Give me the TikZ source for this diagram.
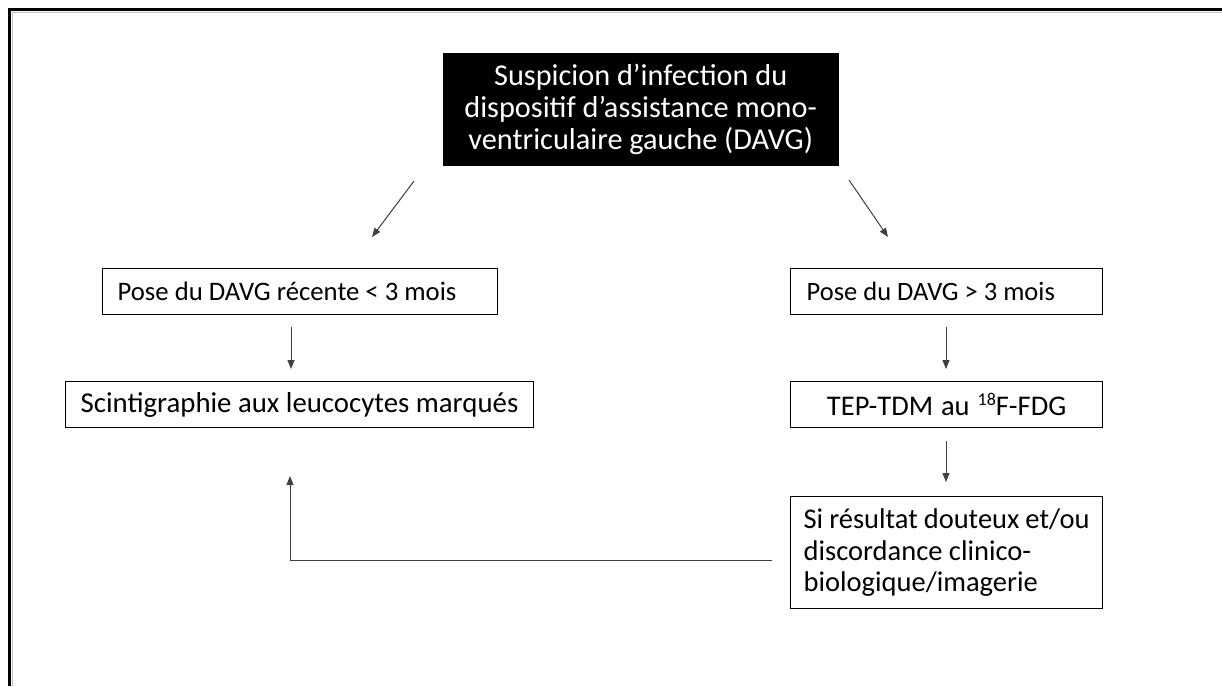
\documentclass[tikz,border=0pt]{standalone}
\usepackage{fontspec}
\setmainfont{Carlito}
\usetikzlibrary{arrows.meta}
\newcommand{\supnum}[1]{\raisebox{10pt}{\fontsize{18}{18}\selectfont #1}}
\begin{document}
\begin{tikzpicture}[x=1pt,y=-1pt,
  every node/.style={execute at begin node={\spaceskip=0pt\xspaceskip=0pt\relax}},
  box/.style={draw=black, line width=1.3pt, anchor=north west, inner ysep=0pt, minimum height=46pt},
  arr/.style={draw=black!75, line width=1pt, -{Triangle[length=9pt,width=7pt]}}
]
\useasboundingbox (0,0) rectangle (1222,686);
\fill[white] (0,0) rectangle (1222,686);
% outer frame (only top and left edges visible)
\draw[black!25, line width=1pt] (12,686) -- (12,12) -- (1222,12);
\draw[black, line width=3pt] (9.5,686) -- (9.5,9.5) -- (1222,9.5);
% nodes
\node[fill=black, text=white, draw=black, anchor=north west, minimum width=395pt, minimum height=112pt, align=center, inner sep=0pt, font=\fontsize{30.3}{32}\selectfont] (top) at (443,53)
  {Suspicion d’infection du\\dispositif d’assistance mono-\\ventriculaire gauche (DAVG)};
\node[box, inner xsep=15pt, text width=365pt, align=left, font=\fontsize{26.7}{30}\selectfont] (pl) at (102,268) {Pose du DAVG récente < 3 mois};
\node[box, inner xsep=15pt, text width=438pt, align=left, font=\fontsize{28.8}{31}\selectfont] (sc) at (65,381) {Scintigraphie aux leucocytes marqués};
\node[box, inner xsep=16pt, text width=280pt, align=left, font=\fontsize{26.5}{30}\selectfont] (pr) at (790,268) {Pose du DAVG > 3 mois};
\node[box, inner xsep=10pt, text width=292pt, align=center, font=\fontsize{28.5}{31}\selectfont] (tep) at (790,381) {TEP-TDM au \supnum{18}F-FDG};
\node[box, inner xsep=13pt, text width=286pt, align=left, minimum height=112pt, font=\fontsize{28.5}{31.5}\selectfont] (si) at (790,496)
  {Si résultat douteux et/ou\\discordance clinico-\\biologique/imagerie};
% connector end points
\coordinate (a1) at (414,181); \coordinate (a2) at (372,237);
\coordinate (b1) at (849,180); \coordinate (b2) at (888,237);
\coordinate (c1) at (291,327); \coordinate (c2) at (291,369);
\coordinate (d1) at (946,327); \coordinate (d2) at (946,369);
\coordinate (e1) at (946,441); \coordinate (e2) at (946,482);
\coordinate (f1) at (772,560); \coordinate (f2) at (290,560); \coordinate (f3) at (290,476);
\draw[arr] (a1) -- (a2);
\draw[arr] (b1) -- (b2);
\draw[arr] (c1) -- (c2);
\draw[arr] (d1) -- (d2);
\draw[arr] (e1) -- (e2);
\draw[arr] (f1) -- (f2) -- (f3);
\end{tikzpicture}
\end{document}
